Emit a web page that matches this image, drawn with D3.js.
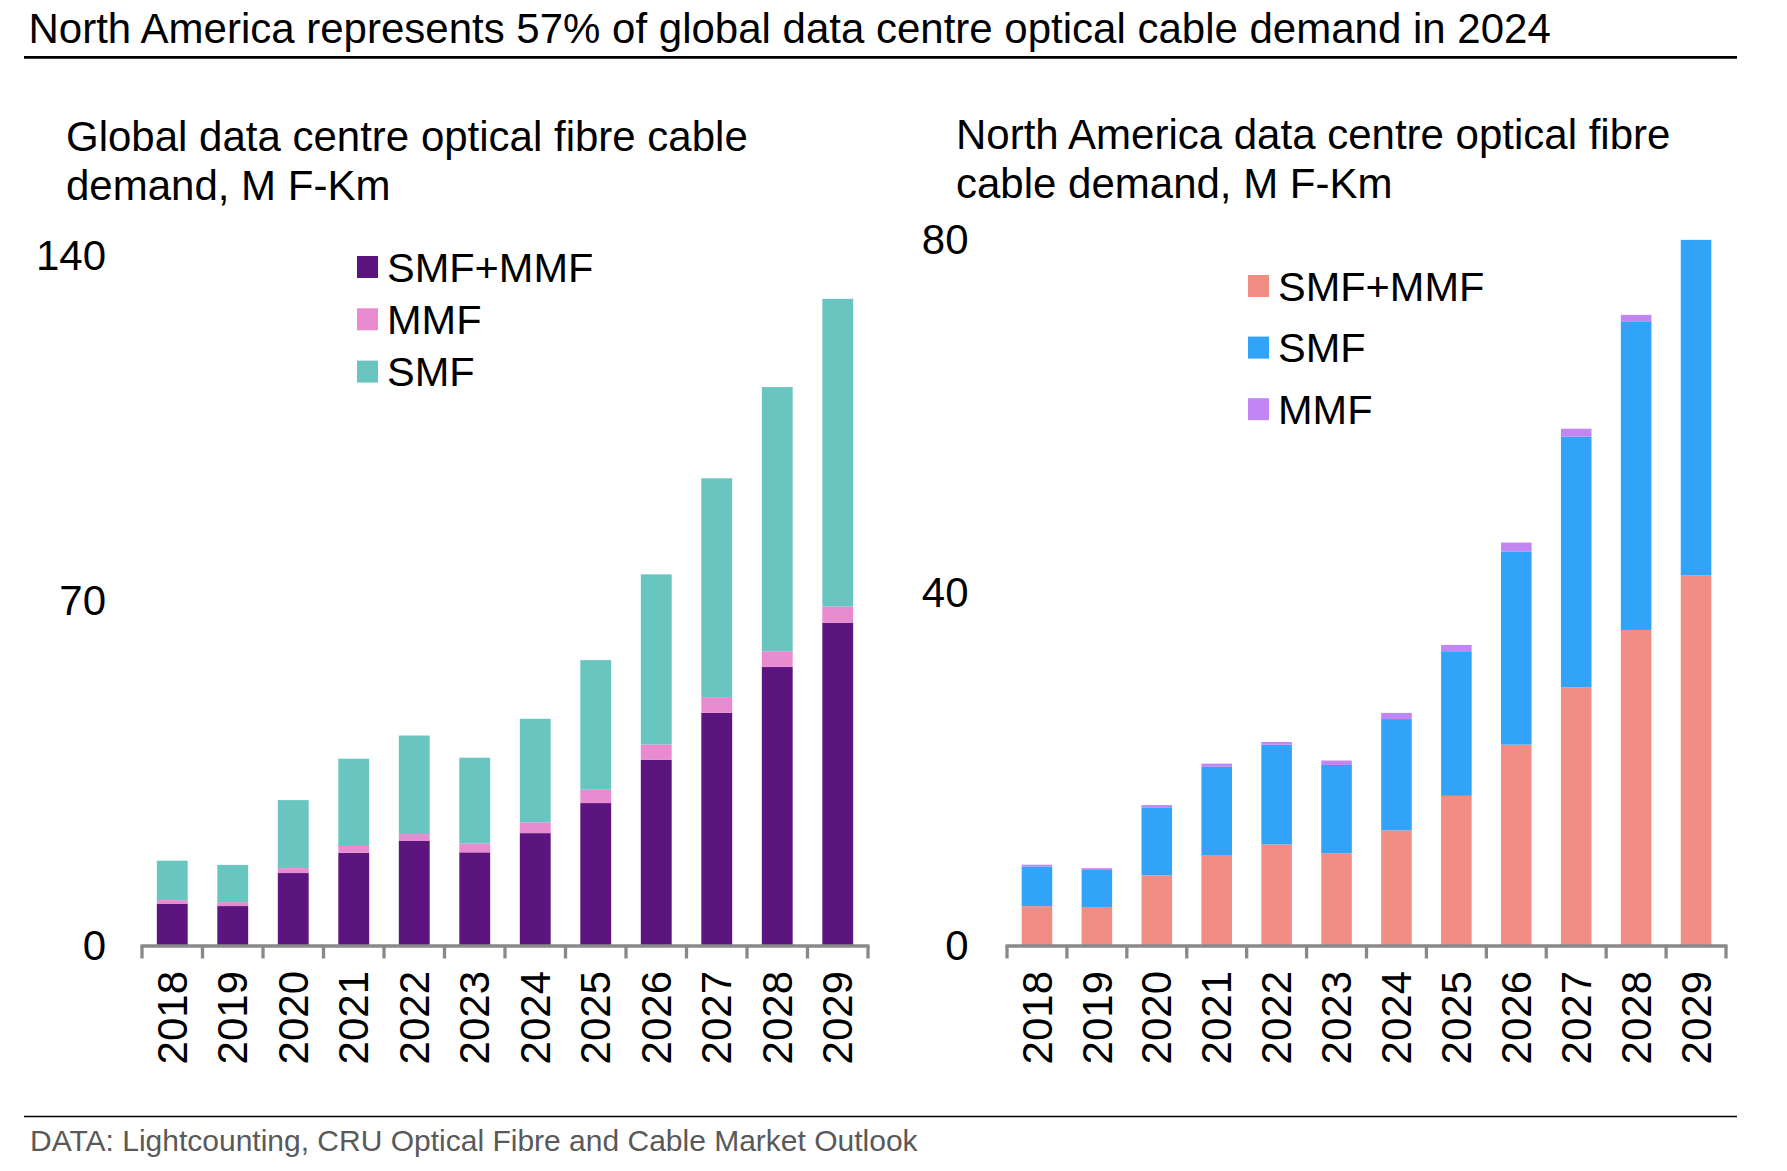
<!DOCTYPE html>
<html>
<head>
<meta charset="utf-8">
<script src="https://cdn.jsdelivr.net/npm/d3@7"></script>
<style>
  body { margin: 0; background: white; }
  text { font-family: "Liberation Sans", Arial, sans-serif; fill: #000; }
</style>
</head>
<body>
<div id="chart"></div>
<script>
// data
const years = ['2018','2019','2020','2021','2022','2023','2024','2025','2026','2027','2028','2029']

// global, M F-Km (stacked: SMF+MMF at bottom, MMF, SMF on top)
const globalBoth = [8.4, 7.9, 14.6, 18.7, 21.1, 18.8, 22.7, 28.8, 37.6, 47.1, 56.4, 65.4]
const globalMMF  = [0.7, 0.8, 1.0, 1.4, 1.4, 1.8, 2.2, 2.7, 3.1, 3.2, 3.2, 3.3]
const globalSMF  = [8.0, 7.55, 13.8, 17.7, 20.0, 17.4, 21.0, 26.3, 34.5, 44.4, 53.6, 62.4]

// north america, M F-Km (stacked: SMF+MMF, SMF, MMF on top)
const naBoth = [4.4, 4.3, 7.9, 10.2, 11.4, 10.4, 13.0, 16.9, 22.7, 29.2, 35.7, 41.9]
const naSMF  = [4.5, 4.2, 7.7, 10.0, 11.3, 10.0, 12.6, 16.3, 21.9, 28.4, 34.9, 38.0]
const naMMF  = [0.2, 0.2, 0.25, 0.35, 0.3, 0.5, 0.7, 0.8, 1.0, 0.9, 0.8, 0.0]

const globalTicks = [0, 70, 140]
const naTicks = [0, 40, 80]

const W = 1787, H = 1171

const svg = d3.select('#chart').append('svg')
  .attr('width', W)
  .attr('height', H)
  .style('background', 'white')

// header
svg.append('text')
  .attr('x', 28.5).attr('y', 43.3)
  .style('font-size', '42px')
  .text('North America represents 57% of global data centre optical cable demand in 2024')
svg.append('line')
  .attr('x1', 24).attr('x2', 1737).attr('y1', 57.3).attr('y2', 57.3)
  .attr('stroke', '#000').attr('stroke-width', 2.7)

// footer
svg.append('line')
  .attr('x1', 24).attr('x2', 1737).attr('y1', 1116.5).attr('y2', 1116.5)
  .attr('stroke', '#000').attr('stroke-width', 1.6)
svg.append('text')
  .attr('x', 30).attr('y', 1150.7)
  .style('font-size', '30px')
  .style('fill', '#595959')
  .text('DATA: Lightcounting, CRU Optical Fibre and Cable Market Outlook')

function drawPanel(opt) {
  const g = svg.append('g')

  // subtitle, two lines
  opt.title.forEach((t, i) => {
    g.append('text')
      .attr('x', opt.titleX).attr('y', opt.titleY + i * 49)
      .style('font-size', '42px')
      .text(t)
  })

  const rows = years.map((y, i) => {
    const r = { year: y }
    opt.keys.forEach((k, j) => { r[k] = opt.series[j][i] })
    return r
  })

  const x = d3.scaleBand()
    .domain(years)
    .range([opt.x0, opt.x1])
    .paddingInner(0.49)
    .paddingOuter(0.245)

  const y = d3.scaleLinear()
    .domain([0, opt.max])
    .range([opt.y0, opt.yTop])

  const stacked = d3.stack().keys(opt.keys)(rows)

  g.selectAll('g.layer')
    .data(stacked)
    .enter()
    .append('g')
    .attr('class', 'layer')
    .attr('fill', (d, i) => opt.colors[i])
    .selectAll('rect')
    .data(d => d)
    .enter()
    .append('rect')
    .attr('x', d => x(d.data.year))
    .attr('y', d => y(d[1]))
    .attr('width', x.bandwidth())
    .attr('height', d => y(d[0]) - y(d[1]))

  // y tick labels, no axis line
  g.selectAll('text.ytick')
    .data(opt.ticks)
    .enter()
    .append('text')
    .attr('class', 'ytick')
    .attr('x', opt.tickX)
    .attr('y', d => y(d))
    .attr('dy', '0.35em')
    .attr('text-anchor', 'end')
    .style('font-size', '42px')
    .text(d => d)

  // x axis: grey line, ticks between the bars
  const step = x.step()
  const x0 = x(years[0]) - step * x.paddingInner() / 2
  const axisY = y(0) + 1
  g.append('line')
    .attr('x1', x0 - 1.5).attr('x2', x0 + step * years.length + 1.5)
    .attr('y1', axisY).attr('y2', axisY)
    .attr('stroke', '#898989').attr('stroke-width', 3.3)
  g.selectAll('line.xtick')
    .data(d3.range(years.length + 1))
    .enter()
    .append('line')
    .attr('class', 'xtick')
    .attr('x1', i => x0 + i * step).attr('x2', i => x0 + i * step)
    .attr('y1', axisY).attr('y2', axisY + 12.5)
    .attr('stroke', '#898989').attr('stroke-width', 3.3)

  g.selectAll('text.xlab')
    .data(years)
    .enter()
    .append('text')
    .attr('class', 'xlab')
    .attr('transform', d => `translate(${x(d) + x.bandwidth() / 2}, ${y(0) + 26}) rotate(-90)`)
    .attr('dy', '0.35em')
    .attr('text-anchor', 'end')
    .style('font-size', '42px')
    .text(d => d)

  // legend
  opt.legend.forEach((l, i) => {
    const cy = opt.legY + i * opt.legStep
    g.append('rect')
      .attr('x', opt.legX).attr('y', cy - 11)
      .attr('width', 21).attr('height', 22)
      .attr('fill', l.color)
    g.append('text')
      .attr('x', opt.legX + 30).attr('y', cy)
      .attr('dy', '0.35em')
      .style('font-size', '41.5px')
      .text(l.name)
  })
}

drawPanel({
  title: ['Global data centre optical fibre cable', 'demand, M F-Km'],
  titleX: 66, titleY: 151,
  keys: ['SMF+MMF', 'MMF', 'SMF'],
  series: [globalBoth, globalMMF, globalSMF],
  colors: ['#5C157E', '#E88BD0', '#69C5BF'],
  max: 140, ticks: globalTicks,
  x0: 142, x1: 868, y0: 945, yTop: 255, tickX: 106,
  legX: 357, legY: 267, legStep: 52.3,
  legend: [
    { name: 'SMF+MMF', color: '#5C157E' },
    { name: 'MMF', color: '#E88BD0' },
    { name: 'SMF', color: '#69C5BF' }
  ]
})

drawPanel({
  title: ['North America data centre optical fibre', 'cable demand, M F-Km'],
  titleX: 956, titleY: 149,
  keys: ['SMF+MMF', 'SMF', 'MMF'],
  series: [naBoth, naSMF, naMMF],
  colors: ['#F28D86', '#31A3F9', '#C185F4'],
  max: 80, ticks: naTicks,
  x0: 1007, x1: 1726, y0: 945, yTop: 239, tickX: 968.5,
  legX: 1248, legY: 286, legStep: 61.6,
  legend: [
    { name: 'SMF+MMF', color: '#F28D86' },
    { name: 'SMF', color: '#31A3F9' },
    { name: 'MMF', color: '#C185F4' }
  ]
})
</script>
</body>
</html>
